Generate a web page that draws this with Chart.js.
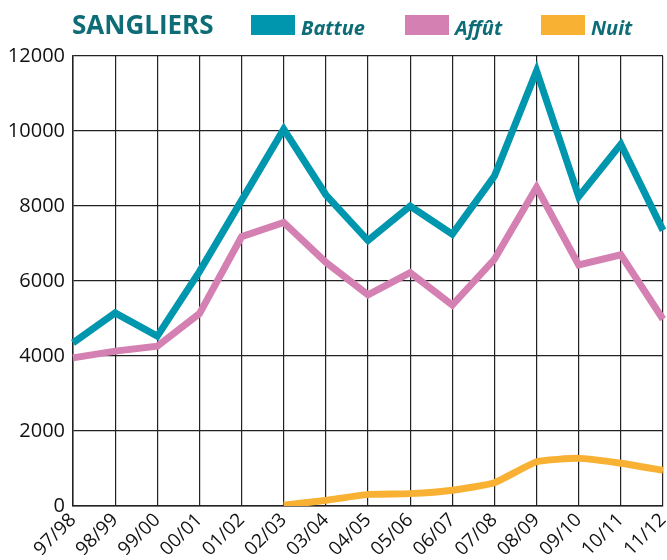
<!DOCTYPE html>
<html>
<head>
<meta charset="utf-8">
<title>Sangliers</title>
<script src="https://cdn.jsdelivr.net/npm/chart.js@4"></script>
<style>
  html, body { margin: 0; padding: 0; background: #fff; }
  #wrap { width: 667px; height: 560px; }
</style>
</head>
<body>
<div id="wrap"><canvas id="chart" width="667" height="560"></canvas></div>
<script>
  // data
  const seasons = ['97/98', '98/99', '99/00', '00/01', '01/02', '02/03', '03/04', '04/05',
                   '05/06', '06/07', '07/08', '08/09', '09/10', '10/11', '11/12'];
  const battue = [4350, 5150, 4530, 6250, 8150, 10050, 8300, 7080, 8000, 7250, 8800, 11600, 8250, 9650, 7350];
  const affut = [3950, 4130, 4260, 5130, 7180, 7560, 6500, 5630, 6220, 5360, 6580, 8500, 6430, 6700, 4980];
  const nuit = [null, null, null, null, null, 20, 150, 310, 330, 420, 620, 1180, 1270, 1140, 950];
  const yTicks = [0, 2000, 4000, 6000, 8000, 10000, 12000];

  const TEAL = '#0097ae';
  const PINK = '#d580b2';
  const ORANGE = '#f8b133';
  const DARK_TEAL = '#0d6c76';
  const GRID = '#222';

  // title + legend in one row, like the print original
  const headerPlugin = {
    id: 'header',
    afterDraw(chart) {
      const ctx = chart.ctx;
      ctx.save();
      ctx.fillStyle = DARK_TEAL;
      ctx.textBaseline = 'alphabetic';
      ctx.font = 'bold 26px "Open Sans"';
      ctx.fillText('SANGLIERS', 72, 34);

      const starts = [251, 405, 541];
      ctx.font = 'italic bold 20px "Open Sans"';
      chart.data.datasets.forEach((ds, i) => {
        const x = starts[i];
        ctx.fillStyle = ds.borderColor;
        ctx.fillRect(x, 15, 44, 20);
        ctx.fillStyle = DARK_TEAL;
        ctx.fillText(ds.label, x + 50, 35);
      });
      ctx.restore();
    }
  };

  new Chart(document.getElementById('chart'), {
    type: 'line',
    data: {
      labels: seasons,
      datasets: [
        { label: 'Battue', data: battue, borderColor: TEAL, borderWidth: 7, tension: 0 },
        { label: 'Affût', data: affut, borderColor: PINK, borderWidth: 7, tension: 0 },
        { label: 'Nuit', data: nuit, borderColor: ORANGE, borderWidth: 7, tension: 0.15 }
      ]
    },
    options: {
      responsive: false,
      animation: false,
      layout: { padding: { top: 56, right: 4, left: 0, bottom: 0 } },
      elements: { point: { radius: 0, hoverRadius: 0 } },
      plugins: {
        legend: { display: false },
        title: { display: false },
        tooltip: { enabled: false }
      },
      scales: {
        x: {
          offset: false,
          grid: { color: GRID, lineWidth: 1.2, drawTicks: false },
          border: { color: GRID, width: 1.5 },
          ticks: {
            autoSkip: false,
            maxRotation: 45,
            minRotation: 45,
            padding: 3,
            color: '#111',
            font: { family: 'Open Sans', size: 19 }
          },
          afterFit(scale) {
            scale.height = 54;
            // rotated labels sit left of their ticks, no overhang on the right
            scale.paddingLeft = 0;
            scale.paddingRight = 0;
          }
        },
        y: {
          min: 0,
          max: 12000,
          afterBuildTicks(scale) { scale.ticks = yTicks.map(v => ({ value: v })); },
          grid: { color: GRID, lineWidth: 1.2, drawTicks: false },
          border: { color: GRID, width: 1.5 },
          ticks: {
            padding: 8,
            color: '#111',
            font: { family: 'Open Sans', size: 20 },
            callback: v => String(v)
          },
          afterFit(scale) {
            scale.width = 73;
            scale.paddingTop = 0;
            scale.paddingBottom = 0;
          }
        }
      }
    },
    plugins: [headerPlugin]
  });
</script>
</body>
</html>
